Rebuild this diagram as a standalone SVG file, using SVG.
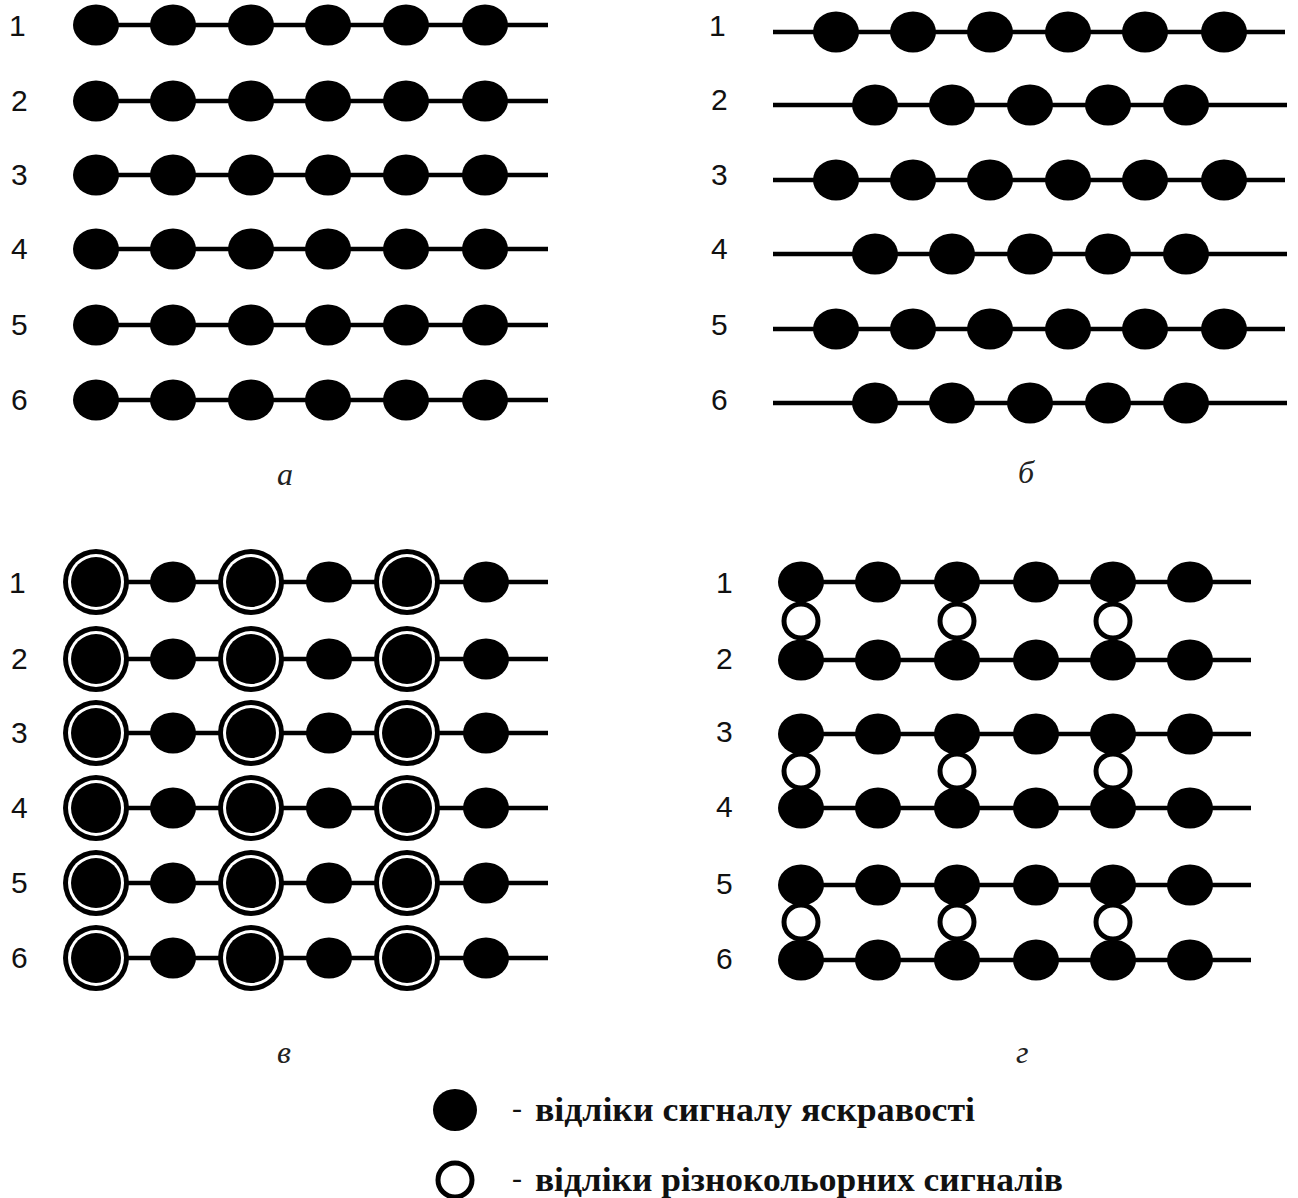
<svg xmlns="http://www.w3.org/2000/svg" width="1298" height="1198" viewBox="0 0 1298 1198">
<style>
.ln{stroke:#000;stroke-width:4.5;fill:none}
.d{fill:#000}
.o{fill:#fff;stroke:#000;stroke-width:5}
.num{font-family:"Liberation Sans",Arial,sans-serif;font-size:30px;fill:#111}
.cap{font-family:"Liberation Serif","Times New Roman",serif;font-style:italic;font-size:32px;fill:#222}
.leg{font-family:"Liberation Serif","Times New Roman",serif;font-weight:bold;font-size:33px;fill:#111}
.dash{font-family:"Liberation Serif","Times New Roman",serif;font-size:30px;fill:#111}
</style>
<rect width="1298" height="1198" fill="#fff"/>
<defs>
<g id="dot"><ellipse cx="0" cy="0" rx="23" ry="20.5" class="d"/></g>
<g id="ring"><circle r="33" fill="#000"/><circle r="28" fill="#fff"/><circle r="25" fill="#000"/></g>
<g id="odot"><circle r="17" class="o"/></g>
</defs>

<g id="connectors">
<line class="ln" x1="75" y1="25" x2="548" y2="25"/>
<line class="ln" x1="75" y1="101" x2="548" y2="101"/>
<line class="ln" x1="75" y1="175" x2="548" y2="175"/>
<line class="ln" x1="75" y1="249" x2="548" y2="249"/>
<line class="ln" x1="75" y1="325" x2="548" y2="325"/>
<line class="ln" x1="75" y1="400" x2="548" y2="400"/>
<line class="ln" x1="773" y1="32" x2="1285" y2="32"/>
<line class="ln" x1="773" y1="105" x2="1287" y2="105"/>
<line class="ln" x1="773" y1="180" x2="1285" y2="180"/>
<line class="ln" x1="773" y1="254" x2="1287" y2="254"/>
<line class="ln" x1="773" y1="329" x2="1285" y2="329"/>
<line class="ln" x1="773" y1="403" x2="1287" y2="403"/>
<line class="ln" x1="75" y1="582" x2="548" y2="582"/>
<line class="ln" x1="75" y1="659" x2="548" y2="659"/>
<line class="ln" x1="75" y1="733" x2="548" y2="733"/>
<line class="ln" x1="75" y1="808" x2="548" y2="808"/>
<line class="ln" x1="75" y1="883" x2="548" y2="883"/>
<line class="ln" x1="75" y1="958" x2="548" y2="958"/>
<line class="ln" x1="785" y1="582" x2="1251" y2="582"/>
<line class="ln" x1="785" y1="660" x2="1251" y2="660"/>
<line class="ln" x1="785" y1="734" x2="1251" y2="734"/>
<line class="ln" x1="785" y1="808" x2="1251" y2="808"/>
<line class="ln" x1="785" y1="885" x2="1251" y2="885"/>
<line class="ln" x1="785" y1="960" x2="1251" y2="960"/>
</g>

<g id="panel-a">
<text class="num" x="9" y="36">1</text>
<text class="num" x="11" y="111">2</text>
<text class="num" x="11" y="185">3</text>
<text class="num" x="11" y="259">4</text>
<text class="num" x="11" y="335">5</text>
<text class="num" x="11" y="410">6</text>
<g id="a-r1"><use href="#dot" x="96" y="25"/><use href="#dot" x="173" y="25"/><use href="#dot" x="251" y="25"/><use href="#dot" x="328" y="25"/><use href="#dot" x="406" y="25"/><use href="#dot" x="485" y="25"/></g>
<g id="a-r2"><use href="#dot" x="96" y="101"/><use href="#dot" x="173" y="101"/><use href="#dot" x="251" y="101"/><use href="#dot" x="328" y="101"/><use href="#dot" x="406" y="101"/><use href="#dot" x="485" y="101"/></g>
<g id="a-r3"><use href="#dot" x="96" y="175"/><use href="#dot" x="173" y="175"/><use href="#dot" x="251" y="175"/><use href="#dot" x="328" y="175"/><use href="#dot" x="406" y="175"/><use href="#dot" x="485" y="175"/></g>
<g id="a-r4"><use href="#dot" x="96" y="249"/><use href="#dot" x="173" y="249"/><use href="#dot" x="251" y="249"/><use href="#dot" x="328" y="249"/><use href="#dot" x="406" y="249"/><use href="#dot" x="485" y="249"/></g>
<g id="a-r5"><use href="#dot" x="96" y="325"/><use href="#dot" x="173" y="325"/><use href="#dot" x="251" y="325"/><use href="#dot" x="328" y="325"/><use href="#dot" x="406" y="325"/><use href="#dot" x="485" y="325"/></g>
<g id="a-r6"><use href="#dot" x="96" y="400"/><use href="#dot" x="173" y="400"/><use href="#dot" x="251" y="400"/><use href="#dot" x="328" y="400"/><use href="#dot" x="406" y="400"/><use href="#dot" x="485" y="400"/></g>
<text class="cap" x="277" y="485">а</text>
</g>

<g id="panel-b">
<text class="num" x="709" y="36">1</text>
<text class="num" x="711" y="110">2</text>
<text class="num" x="711" y="185">3</text>
<text class="num" x="711" y="259">4</text>
<text class="num" x="711" y="335">5</text>
<text class="num" x="711" y="410">6</text>
<g id="b-r1"><use href="#dot" x="836" y="32"/><use href="#dot" x="913" y="32"/><use href="#dot" x="990" y="32"/><use href="#dot" x="1068" y="32"/><use href="#dot" x="1145" y="32"/><use href="#dot" x="1224" y="32"/></g>
<g id="b-r2"><use href="#dot" x="875" y="105"/><use href="#dot" x="952" y="105"/><use href="#dot" x="1030" y="105"/><use href="#dot" x="1108" y="105"/><use href="#dot" x="1186" y="105"/></g>
<g id="b-r3"><use href="#dot" x="836" y="180"/><use href="#dot" x="913" y="180"/><use href="#dot" x="990" y="180"/><use href="#dot" x="1068" y="180"/><use href="#dot" x="1145" y="180"/><use href="#dot" x="1224" y="180"/></g>
<g id="b-r4"><use href="#dot" x="875" y="254"/><use href="#dot" x="952" y="254"/><use href="#dot" x="1030" y="254"/><use href="#dot" x="1108" y="254"/><use href="#dot" x="1186" y="254"/></g>
<g id="b-r5"><use href="#dot" x="836" y="329"/><use href="#dot" x="913" y="329"/><use href="#dot" x="990" y="329"/><use href="#dot" x="1068" y="329"/><use href="#dot" x="1145" y="329"/><use href="#dot" x="1224" y="329"/></g>
<g id="b-r6"><use href="#dot" x="875" y="403"/><use href="#dot" x="952" y="403"/><use href="#dot" x="1030" y="403"/><use href="#dot" x="1108" y="403"/><use href="#dot" x="1186" y="403"/></g>
<text class="cap" x="1018" y="483">б</text>
</g>

<g id="panel-v">
<text class="num" x="9" y="593">1</text>
<text class="num" x="11" y="669">2</text>
<text class="num" x="11" y="743">3</text>
<text class="num" x="11" y="818">4</text>
<text class="num" x="11" y="893">5</text>
<text class="num" x="11" y="968">6</text>
<g id="v-r1"><use href="#ring" x="96" y="582"/><use href="#dot" x="173" y="582"/><use href="#ring" x="251" y="582"/><use href="#dot" x="329" y="582"/><use href="#ring" x="407" y="582"/><use href="#dot" x="486" y="582"/></g>
<g id="v-r2"><use href="#ring" x="96" y="659"/><use href="#dot" x="173" y="659"/><use href="#ring" x="251" y="659"/><use href="#dot" x="329" y="659"/><use href="#ring" x="407" y="659"/><use href="#dot" x="486" y="659"/></g>
<g id="v-r3"><use href="#ring" x="96" y="733"/><use href="#dot" x="173" y="733"/><use href="#ring" x="251" y="733"/><use href="#dot" x="329" y="733"/><use href="#ring" x="407" y="733"/><use href="#dot" x="486" y="733"/></g>
<g id="v-r4"><use href="#ring" x="96" y="808"/><use href="#dot" x="173" y="808"/><use href="#ring" x="251" y="808"/><use href="#dot" x="329" y="808"/><use href="#ring" x="407" y="808"/><use href="#dot" x="486" y="808"/></g>
<g id="v-r5"><use href="#ring" x="96" y="883"/><use href="#dot" x="173" y="883"/><use href="#ring" x="251" y="883"/><use href="#dot" x="329" y="883"/><use href="#ring" x="407" y="883"/><use href="#dot" x="486" y="883"/></g>
<g id="v-r6"><use href="#ring" x="96" y="958"/><use href="#dot" x="173" y="958"/><use href="#ring" x="251" y="958"/><use href="#dot" x="329" y="958"/><use href="#ring" x="407" y="958"/><use href="#dot" x="486" y="958"/></g>
<text class="cap" x="277" y="1063">в</text>
</g>

<g id="panel-g">
<text class="num" x="716" y="593">1</text>
<text class="num" x="716" y="669">2</text>
<text class="num" x="716" y="742">3</text>
<text class="num" x="716" y="817">4</text>
<text class="num" x="716" y="894">5</text>
<text class="num" x="716" y="969">6</text>
<g id="g-o12"><use href="#odot" x="801" y="621"/><use href="#odot" x="957" y="621"/><use href="#odot" x="1113" y="621"/></g>
<g id="g-o34"><use href="#odot" x="801" y="771"/><use href="#odot" x="957" y="771"/><use href="#odot" x="1113" y="771"/></g>
<g id="g-o56"><use href="#odot" x="801" y="922"/><use href="#odot" x="957" y="922"/><use href="#odot" x="1113" y="922"/></g>
<g id="g-r1"><use href="#dot" x="801" y="582"/><use href="#dot" x="878" y="582"/><use href="#dot" x="957" y="582"/><use href="#dot" x="1036" y="582"/><use href="#dot" x="1113" y="582"/><use href="#dot" x="1190" y="582"/></g>
<g id="g-r2"><use href="#dot" x="801" y="660"/><use href="#dot" x="878" y="660"/><use href="#dot" x="957" y="660"/><use href="#dot" x="1036" y="660"/><use href="#dot" x="1113" y="660"/><use href="#dot" x="1190" y="660"/></g>
<g id="g-r3"><use href="#dot" x="801" y="734"/><use href="#dot" x="878" y="734"/><use href="#dot" x="957" y="734"/><use href="#dot" x="1036" y="734"/><use href="#dot" x="1113" y="734"/><use href="#dot" x="1190" y="734"/></g>
<g id="g-r4"><use href="#dot" x="801" y="808"/><use href="#dot" x="878" y="808"/><use href="#dot" x="957" y="808"/><use href="#dot" x="1036" y="808"/><use href="#dot" x="1113" y="808"/><use href="#dot" x="1190" y="808"/></g>
<g id="g-r5"><use href="#dot" x="801" y="885"/><use href="#dot" x="878" y="885"/><use href="#dot" x="957" y="885"/><use href="#dot" x="1036" y="885"/><use href="#dot" x="1113" y="885"/><use href="#dot" x="1190" y="885"/></g>
<g id="g-r6"><use href="#dot" x="801" y="960"/><use href="#dot" x="878" y="960"/><use href="#dot" x="957" y="960"/><use href="#dot" x="1036" y="960"/><use href="#dot" x="1113" y="960"/><use href="#dot" x="1190" y="960"/></g>
<text class="cap" x="1016" y="1063">г</text>
</g>

<g id="legend">
<ellipse cx="455" cy="1110" rx="22" ry="21" class="d"/>
<text class="dash" x="512" y="1118">-</text>
<text class="leg" x="535" y="1121" textLength="440" lengthAdjust="spacingAndGlyphs">відліки сигналу яскравості</text>
<circle cx="455" cy="1180" r="17" class="o"/>
<text class="dash" x="512" y="1188">-</text>
<text class="leg" x="535" y="1191" textLength="528" lengthAdjust="spacingAndGlyphs">відліки різнокольорних сигналів</text>
</g>
</svg>
